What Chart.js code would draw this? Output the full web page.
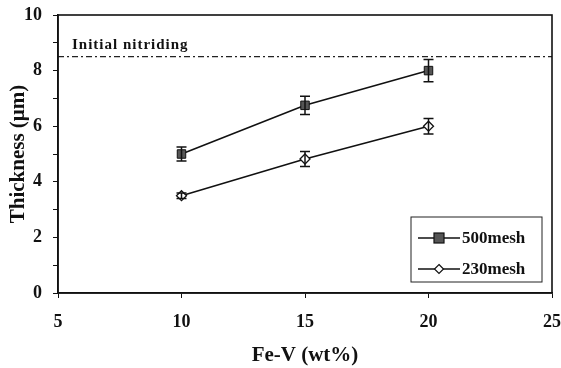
<!DOCTYPE html>
<html>
<head>
<meta charset="utf-8">
<script src="https://cdn.jsdelivr.net/npm/chart.js@4.4.1/dist/chart.umd.min.js"></script>
<style>
  html, body { margin: 0; padding: 0; background: #fff; }
</style>
</head>
<body>
<canvas id="chart" width="561" height="368"></canvas>
<script>
// data
const feV = [10, 15, 20];
const mesh500 = [5.0, 6.75, 8.0];
const mesh500Err = [0.25, 0.33, 0.4];
const mesh230 = [3.5, 4.82, 6.0];
const mesh230Err = [0.1, 0.27, 0.28];
const nitridingX = [5, 25];
const nitridingLevel = 8.5;
const seriesNames = ['500mesh', '230mesh'];

const serif = '"Liberation Serif", "DejaVu Serif", serif';

const toPoints = (xs, ys) => xs.map((x, i) => ({x: x, y: ys[i]}));

// error bars, box around plot, label and legend
const extras = {
    id: 'extras',
    afterDatasetsDraw(chart) {
        const ctx = chart.ctx;
        const xs = chart.scales.x, ys = chart.scales.y;

        ctx.save();
        ctx.strokeStyle = '#111';
        ctx.lineWidth = 1.5;
        chart.data.datasets.forEach(ds => {
            if (!ds.errors) return;
            ds.data.forEach((p, i) => {
                const px = xs.getPixelForValue(p.x);
                const top = ys.getPixelForValue(p.y + ds.errors[i]);
                const bot = ys.getPixelForValue(p.y - ds.errors[i]);
                ctx.beginPath();
                ctx.moveTo(px, top); ctx.lineTo(px, bot);
                ctx.moveTo(px - 5, top); ctx.lineTo(px + 5, top);
                ctx.moveTo(px - 5, bot); ctx.lineTo(px + 5, bot);
                ctx.stroke();
            });
        });
        ctx.restore();
    },
    afterDraw(chart) {
        const ctx = chart.ctx;
        const area = chart.chartArea;
        const ys = chart.scales.y;
        ctx.save();
        // frame
        ctx.strokeStyle = '#111';
        ctx.lineWidth = 1.6;
        ctx.strokeRect(area.left, area.top, area.right - area.left, area.bottom - area.top);

        // label over the dash-dot line
        ctx.fillStyle = '#111';
        ctx.font = 'bold 15px ' + serif;
        ctx.letterSpacing = '1px';
        ctx.textBaseline = 'alphabetic';
        ctx.fillText('Initial nitriding', area.left + 14, ys.getPixelForValue(nitridingLevel) - 8);
        ctx.letterSpacing = '0px';

        // legend
        const lx = 411, ly = 217, lw = 131, lh = 65;
        ctx.fillStyle = '#fff';
        ctx.fillRect(lx, ly, lw, lh);
        ctx.lineWidth = 1;
        ctx.strokeStyle = '#222';
        ctx.strokeRect(lx, ly, lw, lh);
        const rows = [ly + 21, ly + 52];
        chart.data.datasets.slice(0, 2).forEach((ds, i) => {
            const y = rows[i];
            ctx.strokeStyle = '#111';
            ctx.lineWidth = 1.5;
            ctx.beginPath();
            ctx.moveTo(lx + 7, y); ctx.lineTo(lx + 49, y);
            ctx.stroke();
            const mx = lx + 28;
            ctx.lineWidth = 1.2;
            if (i === 0) {
                ctx.fillStyle = '#555';
                ctx.fillRect(mx - 5, y - 5, 10, 10);
                ctx.strokeRect(mx - 5, y - 5, 10, 10);
            } else {
                ctx.fillStyle = '#fff';
                ctx.beginPath();
                ctx.moveTo(mx, y - 4.5); ctx.lineTo(mx + 4.5, y);
                ctx.lineTo(mx, y + 4.5); ctx.lineTo(mx - 4.5, y);
                ctx.closePath();
                ctx.fill(); ctx.stroke();
            }
            ctx.fillStyle = '#111';
            ctx.font = 'bold 17px ' + serif;
            ctx.textBaseline = 'middle';
            ctx.fillText(seriesNames[i], lx + 51, y + 1);
        });
        ctx.restore();
    }
};

new Chart(document.getElementById('chart'), {
    type: 'line',
    data: {
        datasets: [
            {
                label: seriesNames[0],
                data: toPoints(feV, mesh500),
                errors: mesh500Err,
                borderColor: '#111',
                borderWidth: 1.6,
                pointStyle: 'rect',
                pointRadius: 6,
                pointBackgroundColor: '#555',
                pointBorderColor: '#111',
                pointBorderWidth: 1,
                tension: 0
            },
            {
                label: seriesNames[1],
                data: toPoints(feV, mesh230),
                errors: mesh230Err,
                borderColor: '#111',
                borderWidth: 1.6,
                pointStyle: 'rectRot',
                pointRadius: 5,
                pointBackgroundColor: '#fff',
                pointBorderColor: '#111',
                pointBorderWidth: 1.3,
                tension: 0
            },
            {
                label: 'Initial nitriding',
                data: nitridingX.map(x => ({x: x, y: nitridingLevel})),
                borderColor: '#222',
                borderWidth: 1.2,
                borderDash: [6, 3, 2, 3],
                pointRadius: 0
            }
        ]
    },
    options: {
        responsive: false,
        animation: false,
        layout: { padding: { top: 15, right: 9, left: 0, bottom: 0 } },
        plugins: {
            legend: { display: false },
            tooltip: { enabled: false }
        },
        scales: {
            x: {
                type: 'linear',
                min: 5,
                max: 25,
                ticks: {
                    stepSize: 5,
                    color: '#111',
                    padding: 14,
                    font: { family: serif, size: 18, weight: 'bold' }
                },
                grid: { drawOnChartArea: false, tickLength: 5, color: '#111' },
                border: { color: '#111', width: 1.6 },
                title: {
                    display: true,
                    text: 'Fe-V (wt%)',
                    color: '#111',
                    font: { family: serif, size: 21, weight: 'bold' },
                    padding: { top: 10, bottom: 0 }
                },
                afterFit(scale) {
                    scale.height = 75;
                    scale.paddingLeft = 0;
                    scale.paddingRight = 0;
                }
            },
            y: {
                min: 0,
                max: 10,
                ticks: {
                    stepSize: 1,
                    color: '#111',
                    padding: 11,
                    font: { family: serif, size: 18, weight: 'bold' },
                    callback: v => (v % 2 === 0 ? v : '')
                },
                grid: { drawOnChartArea: false, tickLength: 5, color: '#111' },
                border: { color: '#111', width: 1.6 },
                title: {
                    display: true,
                    text: 'Thickness (μm)',
                    color: '#111',
                    font: { family: serif, size: 21, weight: 'bold' },
                    padding: { top: 6, bottom: 0 }
                },
                afterFit(scale) {
                    scale.width = 58;
                    scale.paddingTop = 0;
                    scale.paddingBottom = 0;
                }
            }
        }
    },
    plugins: [extras]
});
</script>
</body>
</html>
